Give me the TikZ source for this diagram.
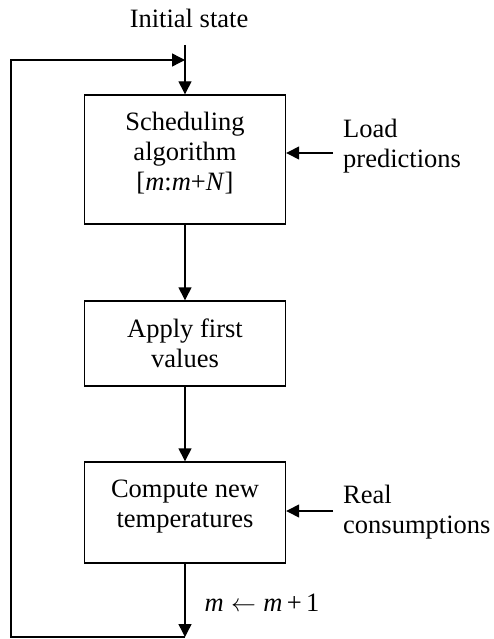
\documentclass[tikz,border=0pt]{standalone}
\usepackage{fontspec}
\setmainfont{Liberation Serif}
\usetikzlibrary{arrows.meta}
\begin{document}
\begin{tikzpicture}[x=1pt,y=1pt,
  every node/.style={font=\fontsize{26.5}{30}\selectfont},
  flowbox/.style={draw,line width=1.4pt,minimum width=201pt,align=center,inner sep=0pt},
  boxtext/.style={align=center,inner sep=0pt},
  conn/.style={line width=1.4pt,-{Triangle[length=13pt,width=13pt]}}]
\useasboundingbox (0,0) rectangle (493,-639);
\node (init) at (189,-18) {Initial state};
\node[flowbox,minimum height=129pt] (sched) at (185,-159.5) {};
\node[boxtext] (schedtxt) at (185,-153) {Scheduling\\algorithm\\{[}\textit{m}:\textit{m}+\textit{N}{]}};
\node[flowbox,minimum height=85pt] (apply) at (185,-343.5) {Apply first\\values};
\node[flowbox,minimum height=101pt] (comp) at (185,-512.5) {};
\node[boxtext] (comptxt) at (185,-507) {Compute new\\temperatures};
\node[anchor=west,align=left,inner sep=0pt] (load) at (343,-146) {Load\\predictions};
\node[anchor=west,align=left,inner sep=0pt] (real) at (343,-512) {Real\\consumptions};
\node (upd) at (262,-603) {\textit{m}\;$\leftarrow$\;\textit{m}\,+\,1};
\coordinate (itop) at (185,-45);
\coordinate (join) at (185,-60);
\coordinate (bot) at (185,-637);
\coordinate (bl) at (11,-637);
\coordinate (tl) at (11,-60);
\coordinate (lps) at (333,-153);
\coordinate (rcs) at (333,-511);
\draw[conn] (itop) -- (sched.north);
\draw[conn] (sched.south) -- (apply.north);
\draw[conn] (apply.south) -- (comp.north);
\draw[conn] (comp.south) -- (bot);
\draw[conn] (bot) -- (bl) -- (tl) -- (join);
\draw[conn] (lps) -- (lps -| sched.east);
\draw[conn] (rcs) -- (rcs -| comp.east);
\end{tikzpicture}
\end{document}
